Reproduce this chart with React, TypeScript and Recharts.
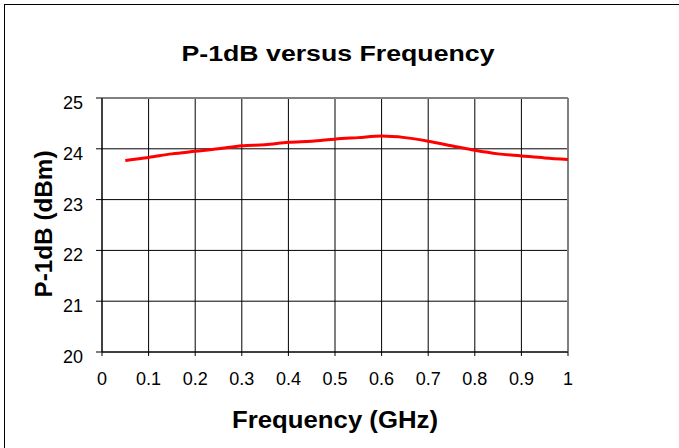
import React from 'react';
import { LineChart, Line, XAxis, YAxis, CartesianGrid, ReferenceLine } from 'recharts';

const freqGHz = [0.05, 0.1, 0.15, 0.2, 0.25, 0.3, 0.35, 0.4, 0.45, 0.5, 0.55, 0.6, 0.65, 0.7, 0.75, 0.8, 0.85, 0.9, 0.95, 1.0];
const p1dB = [23.77, 23.83, 23.9, 23.95, 24.0, 24.06, 24.08, 24.13, 24.15, 24.19, 24.22, 24.25, 24.22, 24.15, 24.06, 23.97, 23.9, 23.86, 23.82, 23.79];
const xTicks = [0, 0.1, 0.2, 0.3, 0.4, 0.5, 0.6, 0.7, 0.8, 0.9, 1];
const yTicks = [20, 21, 22, 23, 24, 25];
const titleText = 'P-1dB versus Frequency';
const xLabelText = 'Frequency (GHz)';
const yLabelText = 'P-1dB (dBm)';

const data = freqGHz.map((f, i) => ({ f, v: p1dB[i] }));
const FONT = '"Liberation Sans", Arial, sans-serif';

const XTick = (props: any) => {
  const { x, y, payload } = props;
  return (
    <text x={x} y={y + 29} textAnchor="middle" fontFamily={FONT} fontSize={18} fill="#000">
      {String(payload.value)}
    </text>
  );
};

const YTick = (props: any) => {
  const { x, y, payload } = props;
  return (
    <text x={x} y={y + 11} textAnchor="end" fontFamily={FONT} fontSize={18} fill="#000">
      {String(payload.value)}
    </text>
  );
};

export default function App() {
  return (
    <div style={{ position: 'absolute', left: 0, top: 0, width: 679, height: 448, overflow: 'hidden', background: '#fff' }}>
      <div style={{ position: 'absolute', left: 4, top: 4, width: 720, height: 500, border: '1px solid #000', boxSizing: 'border-box' }} />
      <div style={{ position: 'absolute', left: 0, top: 0 }}>
        <LineChart width={679} height={448} data={data} margin={{ top: 98, right: 111, left: 0, bottom: 66 }}>
          <CartesianGrid stroke="#000" strokeWidth={1} />
          <XAxis
            dataKey="f"
            type="number"
            domain={[0, 1]}
            ticks={xTicks}
            height={30}
            tickSize={4}
            tickMargin={0}
            axisLine={{ stroke: '#000', strokeWidth: 1 }}
            tickLine={{ stroke: '#000' }}
            tick={<XTick />}
            interval={0}
          />
          <YAxis
            type="number"
            domain={[20, 25]}
            ticks={yTicks}
            width={102}
            tickSize={6}
            tickMargin={13}
            axisLine={{ stroke: '#000', strokeWidth: 1 }}
            tickLine={{ stroke: '#000' }}
            tick={<YTick />}
            interval={0}
          />
          <ReferenceLine y={25} stroke="#808080" strokeWidth={2} />
          <ReferenceLine x={1} stroke="#808080" strokeWidth={2} />
          <Line type="monotone" dataKey="v" stroke="#ff0000" strokeWidth={3} dot={false} isAnimationActive={false} />
        </LineChart>
      </div>
      <svg width={679} height={448} style={{ position: 'absolute', left: 0, top: 0, pointerEvents: 'none' }}>
        <text x={338} y={61} textAnchor="middle" fontFamily={FONT} fontWeight="bold" fontSize={22} textLength={313} lengthAdjust="spacingAndGlyphs" fill="#000">
          {titleText}
        </text>
        <text x={335} y={428} textAnchor="middle" fontFamily={FONT} fontWeight="bold" fontSize={24} textLength={206} lengthAdjust="spacingAndGlyphs" fill="#000">
          {xLabelText}
        </text>
        <text x={0} y={0} transform="translate(52,224) rotate(-90)" textAnchor="middle" fontFamily={FONT} fontWeight="bold" fontSize={24} textLength={147} lengthAdjust="spacingAndGlyphs" fill="#000">
          {yLabelText}
        </text>
      </svg>
    </div>
  );
}
